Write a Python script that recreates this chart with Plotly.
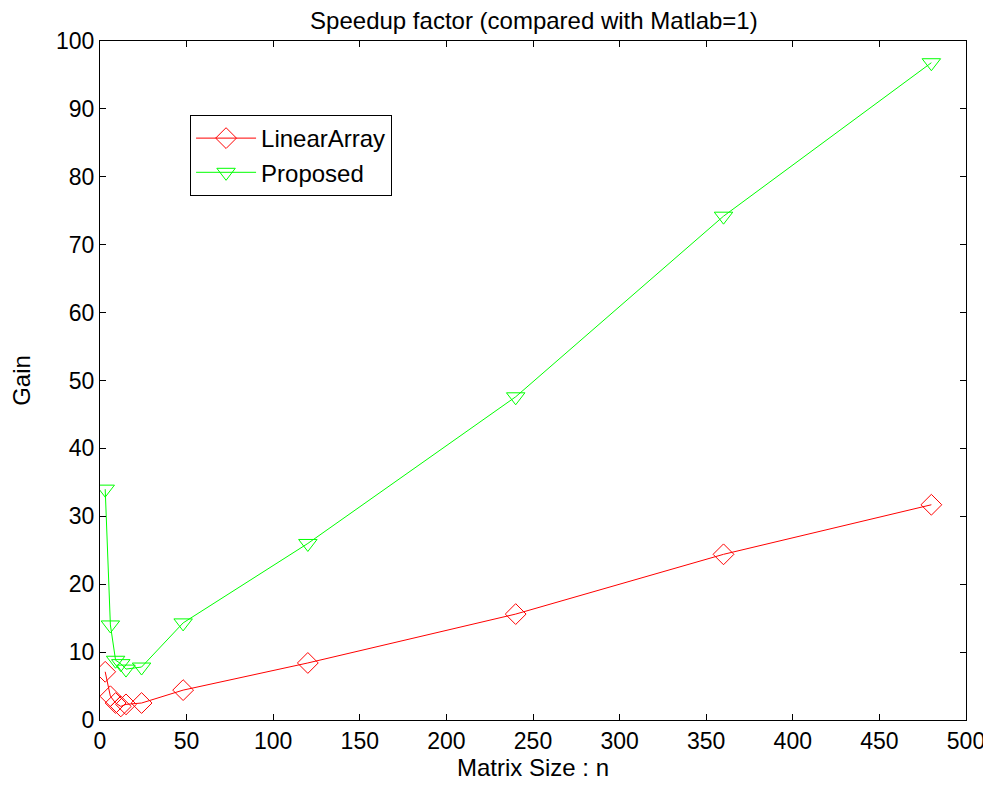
import plotly.graph_objects as go

n_sizes = [3, 6, 9, 12, 15, 24, 48, 120, 240, 360, 480]
linear_array = [7.1, 3.5, 2.5, 2.0, 2.3, 2.5, 4.4, 8.4, 15.6, 24.4, 31.7]
proposed = [34.0, 14.0, 8.8, 8.3, 7.5, 7.8, 14.3, 26.0, 47.6, 74.2, 96.8]
x_ticks = [0, 50, 100, 150, 200, 250, 300, 350, 400, 450, 500]
y_ticks = [0, 10, 20, 30, 40, 50, 60, 70, 80, 90, 100]

FONT = "Liberation Sans, Arial, sans-serif"

fig = go.Figure()
fig.add_trace(go.Scatter(
    x=n_sizes, y=linear_array, name="LinearArray", mode="lines+markers",
    line=dict(color="#ff0000", width=1),
    marker=dict(symbol="diamond-open", size=16, color="#ff0000", line=dict(width=1)),
))
fig.add_trace(go.Scatter(
    x=n_sizes, y=proposed, name="Proposed", mode="lines+markers",
    line=dict(color="#00ff00", width=1),
    marker=dict(symbol="triangle-down-open", size=16, color="#00ff00", line=dict(width=1)),
))

axis_common = dict(
    showgrid=False, zeroline=False, showline=True, linecolor="black", linewidth=1,
    mirror="ticks", ticks="inside", ticklen=6, tickcolor="black", automargin=False,
    tickfont=dict(family=FONT, size=23, color="black"),
)
fig.update_xaxes(range=[0, 500], tickvals=x_ticks, ticktext=[str(v) for v in x_ticks],
                 title=dict(text="Matrix Size : n", font=dict(family=FONT, size=24, color="black"), standoff=4),
                 **axis_common)
fig.update_yaxes(range=[0, 100], tickvals=y_ticks, ticktext=[str(v) for v in y_ticks],
                 title=dict(text="Gain", font=dict(family=FONT, size=24, color="black"), standoff=18),
                 **axis_common)

fig.update_layout(
    width=983, height=788,
    margin=dict(l=92, r=25, t=33, b=76),
    paper_bgcolor="white", plot_bgcolor="white",
    title=dict(text="Speedup factor (compared with Matlab=1)", x=0.535, xanchor="center",
               y=0.984, yanchor="middle", font=dict(family=FONT, size=24, color="black")),
    legend=dict(x=0.104, y=0.891, xanchor="left", yanchor="top",
                bgcolor="white", bordercolor="black", borderwidth=1,
                font=dict(family=FONT, size=24, color="black"),
                itemwidth=60, tracegroupgap=0),
    showlegend=True,
)

fig.write_html("out.html")
